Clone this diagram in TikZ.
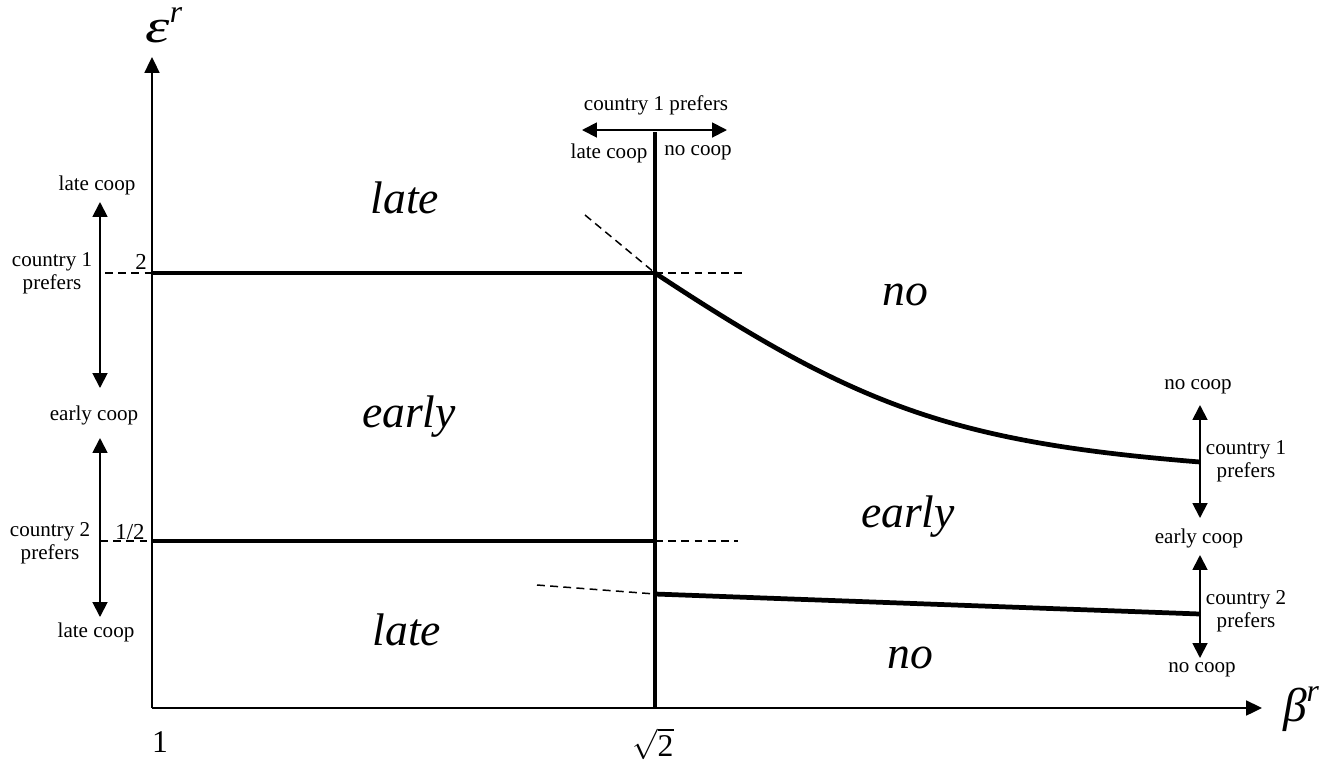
\documentclass[tikz,border=0pt]{standalone}
\usepackage{fontspec}
\setmainfont{Liberation Serif}
\usetikzlibrary{arrows.meta}

\begin{document}
\begin{tikzpicture}[x=0.02cm, y=-0.02cm,
    axis/.style={line width=1.1pt, -{Triangle[length=9pt, width=8.5pt]}},
    both/.style={line width=1.1pt, {Triangle[length=8.5pt, width=8.5pt]}-{Triangle[length=8.5pt, width=8.5pt]}},
    bound/.style={line width=2.7pt},
    guide/.style={line width=0.85pt, dash pattern=on 4.5pt off 3pt},
    lbl/.style={font=\fontsize{12}{13}\selectfont, align=center, inner sep=0pt},
    tick/.style={font=\fontsize{13}{13}\selectfont, inner sep=0pt},
    greek/.style={anchor=base, inner sep=0pt, font=\fontsize{27}{27}\selectfont\itshape},
    region/.style={font=\fontsize{26}{28}\selectfont\itshape, anchor=base, inner sep=0pt}]
  \useasboundingbox (0,0) rectangle (1340,762);

  \coordinate (o) at (152,708);
  \coordinate (ytip) at (152,57);
  \coordinate (xtip) at (1262,708);
  \draw[axis] (o) -- (ytip);
  \draw[axis] (o) -- (xtip);
  \node[greek] (eps) at (164,42)
    {\scalebox{1.3}[1]{ε}\raisebox{0.42em}{\fontsize{18}{18}\selectfont r}};
  \node[greek] (beta) at (1301,721)
    {β\raisebox{0.42em}{\fontsize{18}{18}\selectfont r}};
  \node[anchor=base, inner sep=0pt, font=\fontsize{18}{18}\selectfont] (one) at (160,752) {1};
  \node[anchor=base, inner sep=0pt, font=\fontsize{18}{18}\selectfont] (sq) at (653,756) {$\sqrt{\mbox{2}}$};

  \coordinate (vtop) at (655,132);
  \coordinate (vbot) at (655,708);
  \coordinate (a2) at (152,273);
  \coordinate (k2) at (655,273);
  \coordinate (a12) at (152,541);
  \coordinate (k12) at (655,541);
  \coordinate (k0) at (655,594);
  \coordinate (c1) at (1200,462);
  \coordinate (c2) at (1200,614);
  \draw[bound] (vbot) -- (vtop);
  \draw[bound] (a2) -- (k2);
  \draw[bound] (a12) -- (k12);
  \draw[bound] (k2) .. controls (855,405) and (950,442) .. (c1);
  \draw[bound] (k0) -- (c2);

  \coordinate (d2) at (105,273);
  \coordinate (e2) at (742,273);
  \coordinate (f2) at (585,215);
  \coordinate (d12) at (100,541);
  \coordinate (e12) at (738,541);
  \coordinate (f0) at (537,585);
  \draw[guide] (d2) -- (a2);
  \draw[guide] (k2) -- (e2);
  \draw[guide] (f2) -- (k2);
  \draw[guide] (d12) -- (a12);
  \draw[guide] (k12) -- (e12);
  \draw[guide] (f0) -- (k0);

  \node[tick] (two) at (141,262) {2};
  \node[tick] (half) at (130,532) {1/2};

  \coordinate (tl) at (582,130);
  \coordinate (tr) at (727,130);
  \draw[both] (tl) -- (tr);
  \node[lbl] (p1) at (656,105) {country 1 prefers};
  \node[lbl] (tlate) at (609,153) {late coop};
  \node[lbl] (tno) at (698,153) {no coop};

  \coordinate (l1a) at (100,202);
  \coordinate (l1b) at (100,388);
  \coordinate (l2a) at (100,438);
  \coordinate (l2b) at (100,617);
  \draw[both] (l1a) -- (l1b);
  \draw[both] (l2a) -- (l2b);
  \node[lbl] (llate1) at (97,185) {late coop};
  \node[lbl] (lc1) at (52,273) {country 1\\prefers};
  \node[lbl] (learly) at (94,415) {early coop};
  \node[lbl] (lc2) at (50,543) {country 2\\prefers};
  \node[lbl] (llate2) at (96,632) {late coop};

  \coordinate (r1a) at (1200,405);
  \coordinate (r1b) at (1200,518);
  \coordinate (r2a) at (1200,555);
  \coordinate (r2b) at (1200,658);
  \draw[both] (r1a) -- (r1b);
  \draw[both] (r2a) -- (r2b);
  \node[lbl] (rno1) at (1198,387) {no coop};
  \node[lbl] (rc1) at (1246,461) {country 1\\prefers};
  \node[lbl] (rearly) at (1199,538) {early coop};
  \node[lbl] (rc2) at (1246,611) {country 2\\prefers};
  \node[lbl] (rno2) at (1202,670) {no coop};

  \node[region] (late1) at (405,213) {late};
  \node[region] (early1) at (409,427) {early};
  \node[region] (late0) at (407,645) {late};
  \node[region] (no1) at (905,305) {no};
  \node[region] (early2) at (908,527) {early};
  \node[region] (no0) at (910,668) {no};
\end{tikzpicture}
\end{document}
